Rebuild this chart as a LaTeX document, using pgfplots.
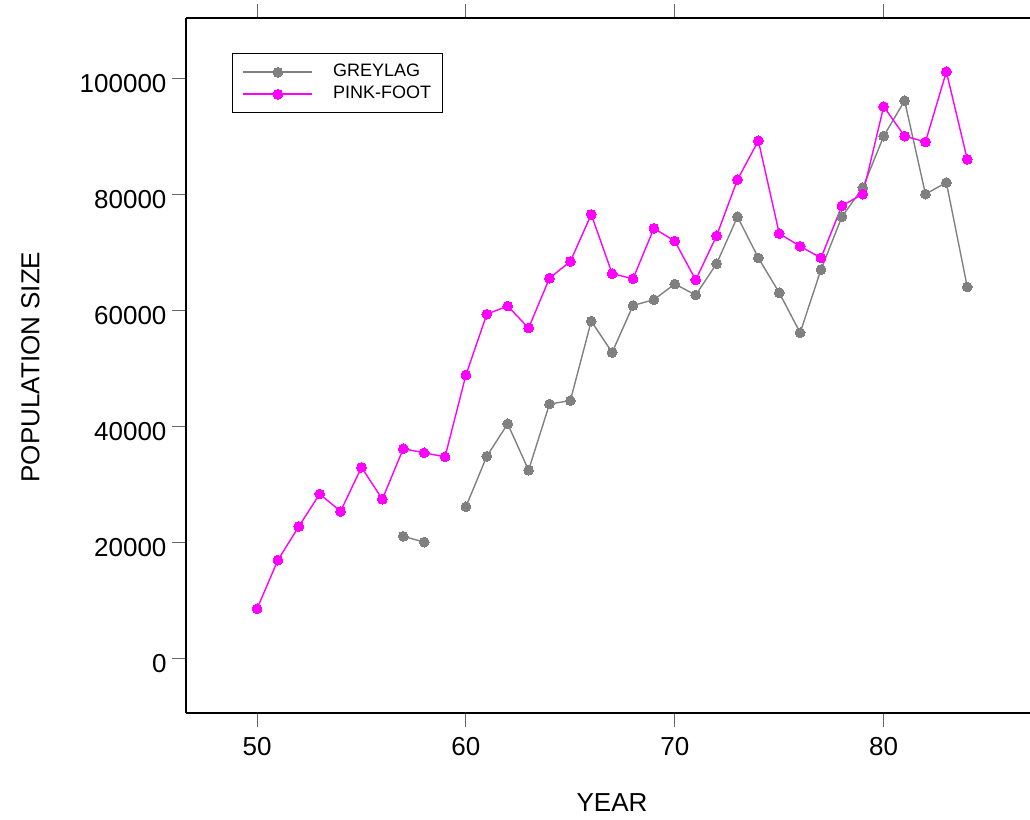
\documentclass[border=0pt]{standalone}
\usepackage{fontspec}
\setmainfont{Liberation Sans}
\usepackage{pgfplots}
\pgfplotsset{compat=1.18}
\definecolor{greylag}{RGB}{128,128,128}
\definecolor{pinkfoot}{RGB}{255,0,255}
\begin{document}
\begin{tikzpicture}[x=1pt,y=1pt]
\useasboundingbox (0,0) rectangle (1030,819);
\begin{axis}[
  at={(186pt,106pt)}, anchor=south west,
  scale only axis, width=864.8pt, height=695pt,
  xmin=46.60, xmax=88, ymin=-9362, ymax=110466,
  axis x line=box, axis y line=left,
  axis line style={line width=1.1pt, black, -},
  tick align=outside, major tick length=14pt,
  tick style={line width=1pt, black!60},
  xtick={50,60,70,80}, ytick={0,20000,40000,60000,80000,100000},
  xtick pos=both, ytick pos=left,
  scaled y ticks=false,
  /pgf/number format/assume math mode=true,
  /pgf/number format/fixed, /pgf/number format/1000 sep={},
  ticklabel style={font=\fontsize{26}{30}\selectfont},
  xticklabel style={yshift=-7pt},
  yticklabel style={yshift=-5pt, xshift=-2pt},
  label style={font=\fontsize{26}{30}\selectfont},
  xlabel={YEAR}, ylabel={POPULATION SIZE},
  xlabel style={at={(axis description cs:0.4926,-0.1295)}, anchor=center},
  ylabel style={at={(axis description cs:-0.1798,0.4978)}, anchor=center, rotate=0},
  unbounded coords=jump,
  legend style={at={(axis description cs:0.0528,0.9492)}, anchor=north west,
    font=\fontsize{18}{22}\selectfont, draw=black, line width=1pt,
    inner xsep=10pt, inner ysep=9pt, row sep=3pt,
    nodes={inner sep=1pt, text height=13pt, text depth=4pt}},
  legend cell align=left,
  legend image code/.code={\draw[#1, line width=2.4pt, mark repeat=2, mark phase=2] plot coordinates {(0pt,0pt) (34.5pt,0pt) (69pt,0pt)}; \path (88pt,0pt);},
]
\addplot[color=greylag, line width=1.4pt, mark=*, mark size=4.9pt, mark options={solid, fill=greylag, draw=greylag, line width=0pt}] coordinates {
(57,21100) (58,20100) (59,nan) (60,26200) (61,34900) (62,40500) (63,32500) (64,43900) (65,44500) (66,58200) (67,52800) (68,60900) (69,61900) (70,64600) (71,62700) (72,68100) (73,76200) (74,69100) (75,63100) (76,56200) (77,67100) (78,76200) (79,81200) (80,90100) (81,96200) (82,80100) (83,82100) (84,64100)
};
\addlegendentry{GREYLAG}
\addplot[color=pinkfoot, line width=1.4pt, mark=*, mark size=4.9pt, mark options={solid, fill=pinkfoot, draw=pinkfoot, line width=0pt}] coordinates {
(50,8600) (51,17000) (52,22800) (53,28400) (54,25400) (55,33000) (56,27500) (57,36200) (58,35500) (59,34800) (60,48900) (61,59400) (62,60800) (63,57000) (64,65600) (65,68500) (66,76600) (67,66400) (68,65500) (69,74200) (70,72000) (71,65300) (72,72900) (73,82600) (74,89300) (75,73300) (76,71100) (77,69100) (78,78100) (79,80100) (80,95200) (81,90100) (82,89100) (83,101200) (84,86100)
};
\addlegendentry{PINK-FOOT}
\end{axis}
\end{tikzpicture}
\end{document}
